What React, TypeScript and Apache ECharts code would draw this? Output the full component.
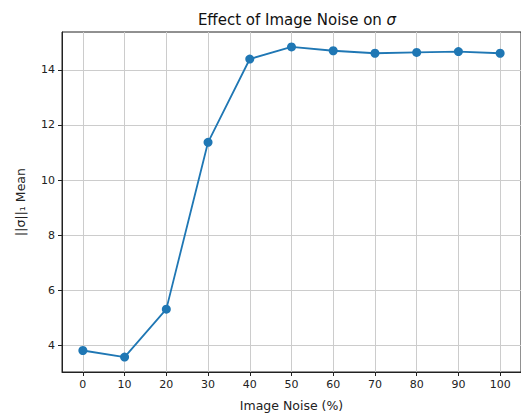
import React, { useEffect, useRef } from "react";
import * as echarts from "echarts";

const noiseLevels = [0, 10, 20, 30, 40, 50, 60, 70, 80, 90, 100];
const sigmaMeans = [3.82, 3.58, 5.32, 11.37, 14.39, 14.83, 14.69, 14.6, 14.63, 14.66, 14.6];
const xTickValues = [0, 10, 20, 30, 40, 50, 60, 70, 80, 90, 100];
const yTickValues = [4, 6, 8, 10, 12, 14];

const FONT = "DejaVu Sans";

export default function App() {
  const ref = useRef<HTMLDivElement>(null);
  useEffect(() => {
    if (!ref.current) return;
    const chart = echarts.init(ref.current, undefined, { renderer: "svg" });
    chart.setOption({
      animation: false,
      backgroundColor: "#ffffff",
      title: {
        text: "Effect of Image Noise on {i|σ}",
        left: 292,
        top: 7,
        textAlign: "center",
        textStyle: {
          fontFamily: FONT,
          fontSize: 15,
          fontWeight: "normal",
          color: "#111",
          rich: {
            i: { fontFamily: FONT, fontSize: 15, fontStyle: "italic", color: "#111" },
          },
        },
      },
      grid: {
        left: 62,
        top: 32,
        width: 460,
        height: 342,
        show: true,
        borderColor: "#222",
        borderWidth: 1,
        backgroundColor: "transparent",
        containLabel: false,
      },
      xAxis: {
        type: "value",
        min: -5,
        max: 105,
        name: "Image Noise (%)",
        nameLocation: "middle",
        nameGap: 27,
        nameTextStyle: { fontFamily: FONT, fontSize: 12.5, color: "#222" },
        axisLine: { show: true, onZero: false, lineStyle: { color: "#222", width: 1 } },
        axisTick: { show: true, length: 4, lineStyle: { color: "#222" }, customValues: xTickValues },
        axisLabel: { fontFamily: FONT, fontSize: 11, color: "#222", margin: 7, customValues: xTickValues },
        splitLine: { show: true, lineStyle: { color: "#cccccc", width: 1 } },
      },
      yAxis: {
        type: "value",
        min: 3.04,
        max: 15.37,
        name: "||σ||₁ Mean",
        nameLocation: "middle",
        nameRotate: 90,
        nameGap: 35,
        nameTextStyle: { fontFamily: FONT, fontSize: 12.5, color: "#222" },
        axisLine: { show: true, onZero: false, lineStyle: { color: "#222", width: 1 } },
        axisTick: { show: true, length: 4, lineStyle: { color: "#222" }, customValues: yTickValues },
        axisLabel: { fontFamily: FONT, fontSize: 11, color: "#222", margin: 7, customValues: yTickValues },
        splitLine: { show: true, lineStyle: { color: "#cccccc", width: 1 } },
      },
      series: [
        {
          type: "line",
          data: noiseLevels.map((x, i) => [x, sigmaMeans[i]]),
          symbol: "circle",
          symbolSize: 9,
          itemStyle: { color: "#1f77b4" },
          lineStyle: { color: "#1f77b4", width: 1.8 },
        },
      ],
    });
    return () => chart.dispose();
  }, []);
  return (
    <div
      ref={ref}
      style={{ position: "fixed", left: 0, top: 0, width: 521, height: 417 }}
    />
  );
}
